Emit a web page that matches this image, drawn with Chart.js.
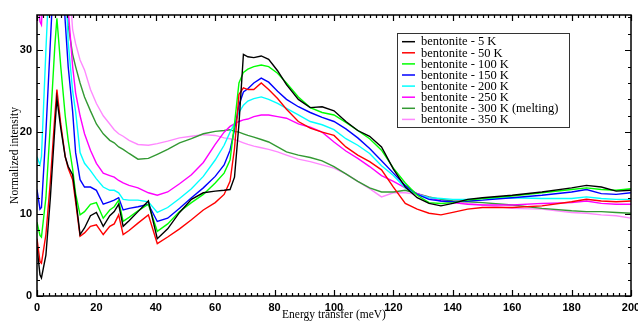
<!DOCTYPE html>
<html>
<head>
    <title>Bentonite spectra</title>
    <script src="https://cdn.jsdelivr.net/npm/chart.js@4.4.1/dist/chart.umd.min.js"></script>
    <style>
        html, body { margin: 0; padding: 0; background: #fff; }
        #wrap { width: 638px; height: 322px; }
    </style>
</head>
<body>
    <div id="wrap"><canvas id="spectraChart"></canvas></div>
    <script>
        // energy transfer grid (meV)
        var energy = [0, 1, 1.5, 3, 4.5, 6, 6.7, 8, 9.5, 10.5, 12, 13, 14.5, 16, 18, 20, 22.3, 24.5, 26, 27.5,
            29, 31, 34, 37.5, 40.5, 44, 48, 52, 56, 60, 63, 65, 66.5, 68, 69.5, 71, 73, 75.5, 78, 81,
            84, 88, 92, 96, 100, 104, 108, 112, 116, 120, 124, 128, 132, 136, 140, 145, 150, 160, 170, 180,
            185, 190, 195, 200];

        var k5 = [6, 2.6, 2.2, 5, 12, 20.5, 24.1, 20.5, 17, 15.8, 14.8, 12, 7.5, 8.3, 9.8, 10.2, 8.5, 9.8, 10.3, 11.2,
            8.5, 9.2, 10.3, 11.6, 7.0, 8.2, 10.2, 11.8, 12.6, 12.8, 12.9, 13.0, 14.5, 21, 29.5, 29.2, 29.1, 29.3, 28.9, 27.5,
            25.8, 24.0, 23.0, 23.1, 22.6, 21.3, 20.2, 19.5, 18.2, 15.5, 13.3, 12.0, 11.3, 11.0, 11.3, 11.8, 12.0, 12.3, 12.7, 13.2,
            13.5, 13.3, 12.8, 12.9];
        var k50 = [7, 4.2, 4.0, 7.5, 14, 22, 25.2, 21, 17, 15.6, 14.2, 11.5, 7.3, 7.7, 8.5, 8.7, 7.5, 8.5, 8.8, 9.9,
            7.5, 8.0, 8.9, 9.9, 6.4, 7.2, 8.2, 9.3, 10.5, 11.4, 12.4, 14.0, 18, 24.6, 25.4, 25.2, 25.2, 26.0, 25.2, 24.1,
            22.8, 21.3, 20.5, 20.0, 19.6, 18.2, 17.2, 16.4, 15.4, 13.3, 11.3, 10.6, 10.1, 9.9, 10.2, 10.6, 10.8, 10.8, 11.0, 11.5,
            11.8, 11.6, 11.5, 11.6];
        var k100 = [9, 7.4, 7.2, 12, 21, 30.5, 33.9, 28, 22, 19, 15.5, 12.5, 9.9, 10.3, 11.2, 11.4, 9.5, 10.5, 10.9, 11.7,
            9.1, 9.6, 10.4, 11.2, 7.9, 8.8, 10.3, 11.4, 12.4, 13.8, 15.0, 16.6, 21, 26, 27.3, 27.7, 28.0, 28.2, 28.0, 27.2,
            26.0, 24.3, 23.0, 22.4, 22.1, 21.2, 20.2, 19.2, 17.8, 15.6, 13.8, 12.3, 11.4, 11.3, 11.4, 11.7, 11.9, 12.2, 12.6, 13.0,
            13.2, 13.0, 12.9, 13.1];
        var k150 = [13, 10.6, 10.8, 20, 31, 42, 45, 42, 33.5, 28, 22.5, 17.5, 14.2, 13.3, 13.3, 12.9, 11.2, 11.5, 11.7, 12.0,
            10.5, 10.7, 10.9, 11.2, 9.1, 9.5, 10.7, 12.0, 13.2, 14.6, 16.0, 17.8, 20.3, 23.3, 24.9, 25.3, 26.0, 26.6, 26.1, 25.0,
            24.0, 23.1, 22.4, 21.8, 21.3, 20.4, 19.3, 18.0, 16.5, 15.0, 13.5, 12.4, 11.8, 11.6, 11.5, 11.6, 11.7, 12.0, 12.3, 12.7,
            13.0, 12.5, 12.4, 12.6];
        var k200 = [17, 16, 17, 30, 42, 52, 55, 50, 40, 31, 25, 22.5, 17.5, 16.2, 15.3, 14.3, 13.3, 12.9, 12.9, 12.6,
            11.8, 11.7, 11.7, 11.5, 10.2, 10.8, 11.9, 13.1, 14.6, 16.6, 18.4, 20.0, 21.0, 22.4, 23.3, 23.8, 24.1, 24.3, 24.0, 23.5,
            22.9, 22.1, 21.3, 20.9, 20.3, 19.2, 18.4, 17.4, 15.9, 14.7, 13.2, 12.4, 12.0, 11.9, 11.8, 11.8, 11.9, 12.0, 11.9, 11.9,
            12.1, 11.9, 11.8, 11.8];
        var k250 = [38, 33.5, 33.1, 45, 55, 60, 62, 55, 42, 35, 28, 24.8, 22, 19.8, 17.8, 16.2, 15.0, 14.7, 14.5, 14.1,
            13.8, 13.5, 13.2, 12.6, 12.3, 12.7, 13.7, 14.8, 16.3, 18.5, 20.0, 20.7, 21.0, 21.3, 21.5, 21.6, 21.9, 22.1, 22.1, 21.9,
            21.7, 21.0, 20.6, 20.0, 18.8, 17.7, 16.8, 15.8, 14.7, 14.0, 13.2, 12.5, 12.0, 11.6, 11.4, 11.2, 11.1, 11.1, 11.3, 11.4,
            11.6, 11.3, 11.2, 11.2];
        var k300 = [50, 50, 50, 55, 60, 62, 62, 55, 38, 33, 29.5, 28, 26, 24.3, 22.6, 21.0, 19.8, 19.0, 18.7, 18.2,
            17.9, 17.4, 16.7, 16.8, 17.3, 17.9, 18.7, 19.2, 19.8, 20.1, 20.2, 20.3, 20.1, 20.0, 19.8, 19.6, 19.4, 19.1, 18.8, 18.2,
            17.6, 17.2, 16.9, 16.5, 15.8, 14.9, 14.0, 13.2, 12.7, 12.7, 12.9, 12.5, 12.1, 11.8, 11.6, 11.5, 11.4, 11.1, 10.7, 10.4,
            10.3, 10.3, 10.2, 10.1];
        var k350 = [50, 50, 50, 55, 60, 62, 62, 56, 45, 40, 32.5, 30.8, 28.8, 27.6, 25.2, 23.5, 22, 21.0, 20.3, 19.8,
            19.5, 19.0, 18.5, 18.4, 18.6, 18.9, 19.3, 19.5, 19.7, 19.6, 19.3, 19.2, 19.1, 18.9, 18.7, 18.5, 18.3, 18.1, 17.9, 17.6,
            17.2, 16.7, 16.4, 16.0, 15.6, 14.9, 14.0, 13.1, 12.1, 12.6, 12.6, 12.4, 12.0, 11.8, 11.6, 11.3, 11.1, 10.7, 10.6, 10.2,
            10.1, 9.9, 9.8, 9.5];

        var labels = ['bentonite - 5 K', 'bentonite - 50 K', 'bentonite - 100 K', 'bentonite - 150 K',
            'bentonite - 200 K', 'bentonite - 250 K', 'bentonite - 300 K (melting)', 'bentonite - 350 K'];
        var colors = ['#000000', '#ff0000', '#00ff00', '#0000ff', '#00ffff', '#ff00ff', '#339933', '#ff88ff'];
        var series = [k5, k50, k100, k150, k200, k250, k300, k350];

        function points(vals) {
            return vals.map(function (v, i) { return { x: energy[i], y: v }; });
        }

        var datasets = series.map(function (s, i) {
            return {
                label: labels[i],
                data: points(s),
                borderColor: colors[i],
                backgroundColor: colors[i],
                borderWidth: 1.4,
                pointRadius: 0,
                tension: 0
            };
        });

        // frame with inward ticks on all four sides
        var frameTicks = {
            id: 'frameTicks',
            afterDatasetsDraw: function (chart) {
                var c = chart.ctx, a = chart.chartArea, xs = chart.scales.x, ys = chart.scales.y;
                c.save();
                c.strokeStyle = '#000';
                c.lineWidth = 1.5;
                c.strokeRect(a.left, a.top, a.right - a.left, a.bottom - a.top);
                c.lineWidth = 1.2;
                c.beginPath();
                for (var v = 0; v <= 200; v += 2) {
                    var px = Math.round(xs.getPixelForValue(v)) + 0.5;
                    var len = v % 20 === 0 ? 6 : 3;
                    c.moveTo(px, a.bottom); c.lineTo(px, a.bottom - len);
                    c.moveTo(px, a.top); c.lineTo(px, a.top + len);
                }
                for (var w = 0; w <= 34; w += 2) {
                    var py = Math.round(ys.getPixelForValue(w)) + 0.5;
                    var l2 = w % 10 === 0 ? 6 : 3;
                    c.moveTo(a.left, py); c.lineTo(a.left + l2, py);
                    c.moveTo(a.right, py); c.lineTo(a.right - l2, py);
                }
                c.stroke();
                c.restore();
            }
        };

        // boxed legend inside the plot, upper right
        var boxLegend = {
            id: 'boxLegend',
            afterDraw: function (chart) {
                var c = chart.ctx;
                var x0 = 397, y0 = 33, w = 172, h = 94, row = 11.1;
                c.save();
                c.fillStyle = '#fff';
                c.fillRect(x0, y0, w, h);
                c.strokeStyle = '#333';
                c.lineWidth = 1;
                c.strokeRect(x0 + 0.5, y0 + 0.5, w, h);
                c.font = '12.5px "Liberation Serif"';
                c.textBaseline = 'middle';
                chart.data.datasets.forEach(function (ds, i) {
                    var y = y0 + 8.7 + i * row;
                    c.strokeStyle = ds.borderColor;
                    c.lineWidth = 1.5;
                    c.beginPath();
                    c.moveTo(x0 + 5, y); c.lineTo(x0 + 18, y);
                    c.stroke();
                    c.fillStyle = '#000';
                    c.fillText(ds.label, x0 + 24, y + 0.5);
                });
                c.restore();
            }
        };

        var ctx = document.getElementById('spectraChart').getContext('2d');
        var spectraChart = new Chart(ctx, {
            type: 'line',
            data: { datasets: datasets },
            options: {
                responsive: true,
                maintainAspectRatio: false,
                animation: false,
                layout: { padding: { top: 15, right: 7, left: 0, bottom: 0 } },
                plugins: {
                    legend: { display: false },
                    tooltip: { enabled: false }
                },
                scales: {
                    x: {
                        type: 'linear',
                        min: 0,
                        max: 200,
                        grid: { display: false, drawTicks: false },
                        border: { display: false },
                        ticks: {
                            stepSize: 20,
                            autoSkip: false,
                            maxRotation: 0,
                            padding: 5,
                            color: '#000',
                            font: { family: '"Liberation Sans"', size: 11, weight: 'bold' }
                        },
                        title: {
                            display: true,
                            text: 'Energy transfer (meV)',
                            color: '#000',
                            padding: { top: 0, bottom: 0 },
                            font: { family: '"Liberation Serif"', size: 11.5 }
                        },
                        afterFit: function (scale) {
                            scale.height = 26;
                            scale.paddingLeft = 0;
                            scale.paddingRight = 0;
                        }
                    },
                    y: {
                        min: 0,
                        max: 34.3,
                        grid: { display: false, drawTicks: false },
                        border: { display: false },
                        ticks: {
                            stepSize: 10,
                            includeBounds: false,
                            padding: 5,
                            color: '#000',
                            font: { family: '"Liberation Sans"', size: 11, weight: 'bold' }
                        },
                        title: {
                            display: true,
                            text: 'Normalized intensity',
                            color: '#000',
                            padding: { top: 8, bottom: 0 },
                            font: { family: '"Liberation Serif"', size: 11.5 }
                        },
                        afterFit: function (scale) {
                            scale.width = 37;
                            scale.paddingTop = 0;
                            scale.paddingBottom = 0;
                        }
                    }
                }
            },
            plugins: [frameTicks, boxLegend]
        });
    </script>
</body>
</html>
